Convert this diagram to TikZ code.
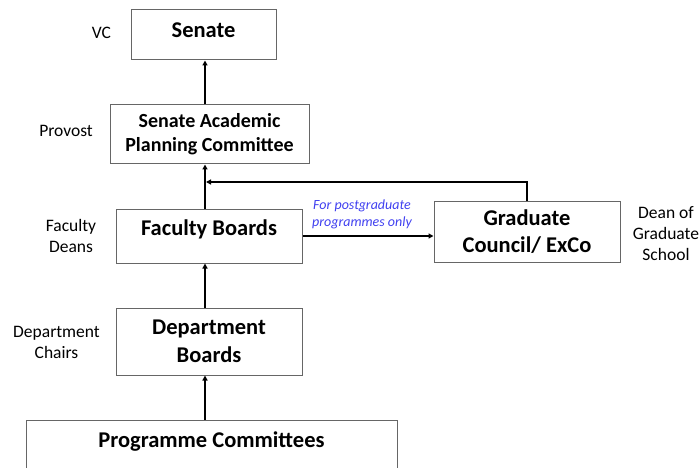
\documentclass[tikz,border=0pt]{standalone}
\usepackage{fontspec}
\setmainfont{Carlito}
\usetikzlibrary{arrows.meta,positioning}
\definecolor{notecol}{RGB}{64,64,240}

\begin{document}
\begin{tikzpicture}[x=1pt, y=-1pt,
  box/.style={draw=black!60, line width=1pt, align=center, inner sep=0pt,
    font=\bfseries\fontsize{22.5}{27}\selectfont},
  role/.style={align=center, font=\fontsize{17.5}{21}\selectfont},
  flow/.style={-{Triangle[length=5pt,width=5pt]}, line width=1.6pt},
  note/.style={align=center, text=notecol, font=\itshape\fontsize{14}{17}\selectfont}]
\path[use as bounding box, clip] (0,0) rectangle (699,468);
% committees
\node [box, minimum width=145pt, minimum height=50pt, text depth=10pt] (senate) at (203.5,35) {Senate};
\node [box, minimum width=199pt, minimum height=59pt, font=\bfseries\fontsize{20}{24}\selectfont] (sapc) at (209.5,134.5) {Senate Academic\\Planning Committee};
\node [box, minimum width=186pt, minimum height=54pt, text depth=16pt] (fb) at (209,236) {Faculty Boards};
\node [box, minimum width=186pt, minimum height=61pt] (gc) at (527,231.5) {Graduate\\Council/ ExCo};
\node [box, minimum width=186pt, minimum height=67pt, font=\bfseries\fontsize{22.5}{28}\selectfont] (db) at (209,341.5) {Department\\Boards};
\node [box, minimum width=371pt, minimum height=50pt, text depth=10pt] (pc) at (211.5,445) {Programme Committees};
% chairs
\node [role] (vc) at (101.5,33) {VC};
\node [role] (provost) at (66,131) {Provost};
\node [role] (deans) at (71,235.5) {Faculty\\Deans};
\node [role] (chairs) at (56.5,342) {Department\\Chairs};
\node [role] (dean) at (666,234) {Dean of\\Graduate\\School};
% reporting lines
\coordinate (spine) at (205,0);
\coordinate (join) at (206,182);
\draw[flow] (pc.north -| spine) -- (db.south -| spine);
\draw[flow] (db.north -| spine) -- (fb.south -| spine);
\draw[flow] (fb.east) -- (fb.east -| gc.west) node[midway, above=3pt, xshift=-6pt, note] {For postgraduate\\programmes only};
\draw[flow] (fb.north -| spine) -- (sapc.south -| spine);
\draw[flow] (sapc.north -| spine) -- (senate.south -| spine);
\draw[flow] (gc.north) |- (join);
\end{tikzpicture}
\end{document}
